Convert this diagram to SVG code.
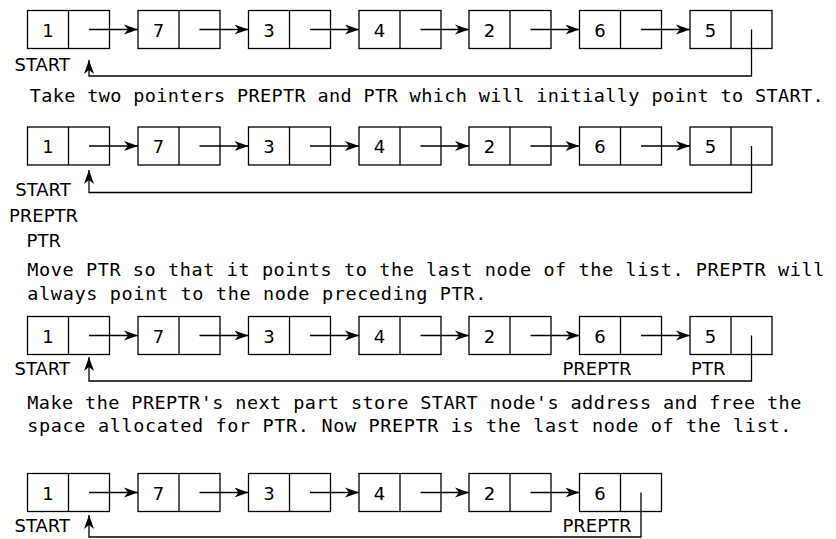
<svg xmlns="http://www.w3.org/2000/svg" width="836" height="539" viewBox="0 0 836 539">
<style>
.box{fill:#fff;stroke:#000;stroke-width:1.3}
.val{font-family:"DejaVu Sans",Verdana,sans-serif;font-size:18px;text-anchor:middle;fill:#000}
.lbl{font-family:"DejaVu Sans",Verdana,sans-serif;font-size:18px;text-anchor:middle;fill:#000}
.txt{font-family:"DejaVu Sans Mono","Liberation Mono",monospace;font-size:18.5px;fill:#000}
.con path{fill:none;stroke:#000;stroke-width:1.3}
</style>
<defs>
<marker id="ah" markerUnits="userSpaceOnUse" markerWidth="15" markerHeight="11" refX="14" refY="5.5" orient="auto">
<path d="M0,0.5 L14,5.5 L0,10.5 L4,5.5 Z" fill="#000"/>
</marker>
<g id="nodeShape">
<rect class="box" x="0" y="0" width="82" height="38"/>
<line x1="41" y1="0" x2="41" y2="38" stroke="#000" stroke-width="1.3"/>
</g>
</defs>

<!-- Row 1 -->
<g id="r1n1" transform="translate(27.5,10.5)"><use href="#nodeShape"/><text class="val" x="20.5" y="26">1</text></g>
<g id="r1n2" transform="translate(138,10.5)"><use href="#nodeShape"/><text class="val" x="20.5" y="26">7</text></g>
<g id="r1n3" transform="translate(248.5,10.5)"><use href="#nodeShape"/><text class="val" x="20.5" y="26">3</text></g>
<g id="r1n4" transform="translate(359,10.5)"><use href="#nodeShape"/><text class="val" x="20.5" y="26">4</text></g>
<g id="r1n5" transform="translate(469,10.5)"><use href="#nodeShape"/><text class="val" x="20.5" y="26">2</text></g>
<g id="r1n6" transform="translate(579.5,10.5)"><use href="#nodeShape"/><text class="val" x="20.5" y="26">6</text></g>
<g id="r1n7" transform="translate(690,10.5)"><use href="#nodeShape"/><text class="val" x="20.5" y="26">5</text></g>
<text class="lbl" x="42.3" y="71">START</text>
<text class="txt" x="29.7" y="102" textLength="794" lengthAdjust="spacing">Take two pointers PREPTR and PTR which will initially point to START.</text>

<!-- Row 2 -->
<g id="r2n1" transform="translate(27.5,127)"><use href="#nodeShape"/><text class="val" x="20.5" y="26">1</text></g>
<g id="r2n2" transform="translate(138,127)"><use href="#nodeShape"/><text class="val" x="20.5" y="26">7</text></g>
<g id="r2n3" transform="translate(248.5,127)"><use href="#nodeShape"/><text class="val" x="20.5" y="26">3</text></g>
<g id="r2n4" transform="translate(359,127)"><use href="#nodeShape"/><text class="val" x="20.5" y="26">4</text></g>
<g id="r2n5" transform="translate(469,127)"><use href="#nodeShape"/><text class="val" x="20.5" y="26">2</text></g>
<g id="r2n6" transform="translate(579.5,127)"><use href="#nodeShape"/><text class="val" x="20.5" y="26">6</text></g>
<g id="r2n7" transform="translate(690,127)"><use href="#nodeShape"/><text class="val" x="20.5" y="26">5</text></g>
<text class="lbl" x="43" y="196">START</text>
<text class="lbl" x="43.5" y="221.5">PREPTR</text>
<text class="lbl" x="43.8" y="247">PTR</text>
<text class="txt" x="27.3" y="276" textLength="797" lengthAdjust="spacing">Move PTR so that it points to the last node of the list. PREPTR will</text>
<text class="txt" x="27.3" y="300" textLength="459" lengthAdjust="spacing">always point to the node preceding PTR.</text>

<!-- Row 3 -->
<g id="r3n1" transform="translate(27.5,316.5)"><use href="#nodeShape"/><text class="val" x="20.5" y="26">1</text></g>
<g id="r3n2" transform="translate(138,316.5)"><use href="#nodeShape"/><text class="val" x="20.5" y="26">7</text></g>
<g id="r3n3" transform="translate(248.5,316.5)"><use href="#nodeShape"/><text class="val" x="20.5" y="26">3</text></g>
<g id="r3n4" transform="translate(359,316.5)"><use href="#nodeShape"/><text class="val" x="20.5" y="26">4</text></g>
<g id="r3n5" transform="translate(469,316.5)"><use href="#nodeShape"/><text class="val" x="20.5" y="26">2</text></g>
<g id="r3n6" transform="translate(579.5,316.5)"><use href="#nodeShape"/><text class="val" x="20.5" y="26">6</text></g>
<g id="r3n7" transform="translate(690,316.5)"><use href="#nodeShape"/><text class="val" x="20.5" y="26">5</text></g>
<text class="lbl" x="42.3" y="375">START</text>
<text class="lbl" x="597" y="375">PREPTR</text>
<text class="lbl" x="708.3" y="375">PTR</text>
<text class="txt" x="27.3" y="408.5" textLength="774" lengthAdjust="spacing">Make the PREPTR's next part store START node's address and free the</text>
<text class="txt" x="27.3" y="432" textLength="764" lengthAdjust="spacing">space allocated for PTR. Now PREPTR is the last node of the list.</text>

<!-- Row 4 -->
<g id="r4n1" transform="translate(27.5,473.5)"><use href="#nodeShape"/><text class="val" x="20.5" y="26">1</text></g>
<g id="r4n2" transform="translate(138,473.5)"><use href="#nodeShape"/><text class="val" x="20.5" y="26">7</text></g>
<g id="r4n3" transform="translate(248.5,473.5)"><use href="#nodeShape"/><text class="val" x="20.5" y="26">3</text></g>
<g id="r4n4" transform="translate(359,473.5)"><use href="#nodeShape"/><text class="val" x="20.5" y="26">4</text></g>
<g id="r4n5" transform="translate(469,473.5)"><use href="#nodeShape"/><text class="val" x="20.5" y="26">2</text></g>
<g id="r4n6" transform="translate(579.5,473.5)"><use href="#nodeShape"/><text class="val" x="20.5" y="26">6</text></g>
<text class="lbl" x="42.3" y="531.5">START</text>
<text class="lbl" x="597" y="532">PREPTR</text>

<g id="connectors" class="con">
<path d="M89,29.5 H138" marker-end="url(#ah)"/>
<path d="M199.5,29.5 H248.5" marker-end="url(#ah)"/>
<path d="M310,29.5 H359" marker-end="url(#ah)"/>
<path d="M420.5,29.5 H469" marker-end="url(#ah)"/>
<path d="M530.5,29.5 H579.5" marker-end="url(#ah)"/>
<path d="M641,29.5 H690" marker-end="url(#ah)"/>
<path d="M751.5,29.5 V76 H89 V60" marker-end="url(#ah)"/>

<path d="M89,146 H138" marker-end="url(#ah)"/>
<path d="M199.5,146 H248.5" marker-end="url(#ah)"/>
<path d="M310,146 H359" marker-end="url(#ah)"/>
<path d="M420.5,146 H469" marker-end="url(#ah)"/>
<path d="M530.5,146 H579.5" marker-end="url(#ah)"/>
<path d="M641,146 H690" marker-end="url(#ah)"/>
<path d="M751.5,146 V192.5 H89 V170" marker-end="url(#ah)"/>

<path d="M89,335.5 H138" marker-end="url(#ah)"/>
<path d="M199.5,335.5 H248.5" marker-end="url(#ah)"/>
<path d="M310,335.5 H359" marker-end="url(#ah)"/>
<path d="M420.5,335.5 H469" marker-end="url(#ah)"/>
<path d="M530.5,335.5 H579.5" marker-end="url(#ah)"/>
<path d="M641,335.5 H690" marker-end="url(#ah)"/>
<path d="M751.5,335.5 V381 H89 V357" marker-end="url(#ah)"/>

<path d="M89,492.5 H138" marker-end="url(#ah)"/>
<path d="M199.5,492.5 H248.5" marker-end="url(#ah)"/>
<path d="M310,492.5 H359" marker-end="url(#ah)"/>
<path d="M420.5,492.5 H469" marker-end="url(#ah)"/>
<path d="M530.5,492.5 H579.5" marker-end="url(#ah)"/>
<path d="M641,492.5 V537 H89 V515" marker-end="url(#ah)"/>
</g>
</svg>
